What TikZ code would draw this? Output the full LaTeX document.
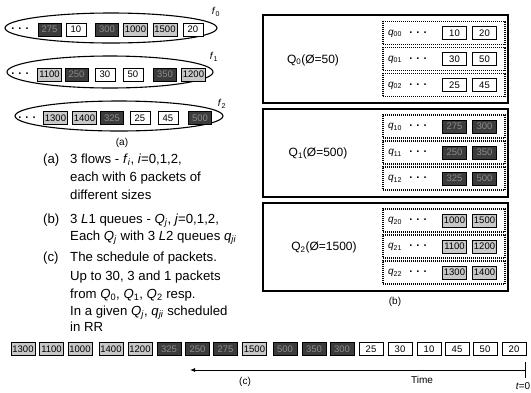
\documentclass[tikz,border=0pt]{standalone}
\usepackage{fontspec}
\setmainfont{Liberation Sans}
\usetikzlibrary{shapes.geometric,arrows.meta}
\definecolor{darkpk}{HTML}{3C3C3C}
\definecolor{darktxt}{HTML}{8C8C8C}
\definecolor{lightpk}{HTML}{C8C8C8}
\tikzset{
  pk/.style={draw=black, line width=0.8pt, inner xsep=1pt, inner ysep=0pt, minimum height=13pt, minimum width=24pt,
    font=\fontsize{9.5}{10}\selectfont, text height=6.9pt, text depth=0pt},
  pw/.style={pk, fill=white},
  pd/.style={pk, fill=darkpk, text=darktxt},
  pl/.style={pk, fill=lightpk},
  ew/.style={pw, minimum width=20pt},
  ed/.style={pd, minimum width=23pt},
  el/.style={pl, minimum width=24pt},
  flowell/.style={ellipse, draw, line width=1.1pt, inner sep=0pt},
  Qbox/.style={draw, line width=2pt, inner sep=0pt, minimum width=245pt, minimum height=88pt},
  qbox/.style={draw, line width=1.1pt, dash pattern=on 1pt off 1pt, inner sep=0pt, minimum width=122pt, minimum height=23pt},
  qlab/.style={inner sep=0pt, font=\fontsize{10}{12}\selectfont},
  dotsn/.style={inner sep=0pt, font=\fontsize{11}{12}\selectfont\bfseries},
  Qlab/.style={inner sep=0pt, font=\fontsize{12}{14}\selectfont},
  captxt/.style={inner sep=0pt, font=\fontsize{10}{12}\selectfont},
  flab/.style={inner sep=0pt, font=\fontsize{10}{12}\selectfont},
  txt/.style={inner sep=0pt, anchor=west, font=\fontsize{13.2}{16}\selectfont, text height=9.5pt, text depth=2.7pt},
}
\begin{document}
\begin{tikzpicture}[x=1pt,y=-1pt]
\useasboundingbox (0,0) rectangle (531,392);

% ---------- flows (a) ----------
\node[flowell, minimum width=212pt, minimum height=30pt] (f0) at (111,28) {};
\node[flowell, minimum width=206pt, minimum height=32pt] (f1) at (110,72) {};
\node[flowell, minimum width=208pt, minimum height=30pt] (f2) at (119,116) {};
\node[flab] (f0l) at (216,12) {\textit{f}\textsubscript{0}};
\node[flab] (f1l) at (214,57) {\textit{f}\textsubscript{1}};
\node[flab] (f2l) at (222,104) {\textit{f}\textsubscript{2}};
\node[dotsn] (f0d) at (20,28.5) {. . .};
\node[dotsn] (f1d) at (20,73.5) {. . .};
\node[dotsn] (f2d) at (27,117.5) {. . .};
\foreach \s/\x/\t [count=\k] in {d/49.5/275, w/76/10, d/107/300, l/135.5/1000, l/165/1500, w/193/20}
  \node[e\s] (fa\k) at (\x,29.5) {\t};
\foreach \s/\x/\t [count=\k] in {l/49.5/1100, d/76.5/250, w/105/30, w/133/50, d/165/350, l/193.5/1200}
  \node[e\s] (fb\k) at (\x,74.5) {\t};
\foreach \s/\x/\t [count=\k] in {l/55.5/1300, l/84.5/1400, d/112/325, w/140/25, w/168/45, d/200/500}
  \node[e\s] (fc\k) at (\x,118) {\t};
\node[captxt] (capa) at (122,143) {(a)};

% ---------- left text ----------
\node[txt] (la) at (43,160) {(a)};
\node[txt] (ta1) at (70,160) {3 flows - \textit{f}\textsubscript{\textit{i}}, \textit{i}=0,1,2,};
\node[txt] (ta2) at (70,178) {each with 6 packets of};
\node[txt] (ta3) at (70,196) {different sizes};
\node[txt] (lb) at (43,220) {(b)};
\node[txt] (tb1) at (70,220) {3 \textit{L}1 queues - \textit{Q}\textsubscript{\textit{j}}, \textit{j}=0,1,2,};
\node[txt] (tb2) at (70,237) {Each \textit{Q}\textsubscript{\textit{j}} with 3 \textit{L}2 queues \textit{q}\textsubscript{\textit{ji}}};
\node[txt] (lc) at (43,258) {(c)};
\node[txt] (tc1) at (70,258) {The schedule of packets.};
\node[txt] (tc2) at (70,277) {Up to 30, 3 and 1 packets};
\node[txt] (tc3) at (70,295) {from \textit{Q}\textsubscript{0}, \textit{Q}\textsubscript{1}, \textit{Q}\textsubscript{2} resp.};
\node[txt] (tc4) at (70,312) {In a given \textit{Q}\textsubscript{\textit{j}}, \textit{q}\textsubscript{\textit{ji}} scheduled};
\node[txt] (tc5) at (70,328) {in RR};

% ---------- queues (b) ----------
\node[Qbox] (Q0) at (385.5,59) {};
\node[Qbox] (Q1) at (385.5,152.5) {};
\node[Qbox] (Q2) at (385.5,246.5) {};
\node[Qlab] (Q0l) at (313,60) {Q\textsubscript{0}(Ø=50)};
\node[Qlab] (Q1l) at (318,153.5) {Q\textsubscript{1}(Ø=500)};
\node[Qlab] (Q2l) at (324,247.5) {Q\textsubscript{2}(Ø=1500)};
\foreach \j/\i/\y/\s/\a/\b in {0/0/33/w/10/20, 0/1/59/w/30/50, 0/2/85/w/25/45,
    1/0/126.5/d/275/300, 1/1/152.5/d/250/350, 1/2/178.5/d/325/500,
    2/0/220.5/l/1000/1500, 2/1/246.5/l/1100/1200, 2/2/272.5/l/1300/1400} {
  \node[qbox] (qb\j\i) at (444,\y) {};
  \node[qlab] (ql\j\i) at (395,\y+0.5) {\textit{q}\textsubscript{\j\i}};
  \node[dotsn] (qd\j\i) at (418,\y-0.5) {. . .};
  \node[p\s] (qa\j\i) at (454.5,\y) {\a};
  \node[p\s] (qz\j\i) at (484.5,\y) {\b};
}
\node[captxt] (capb) at (395,302) {(b)};

% ---------- schedule (c) ----------
\foreach \s/\x/\t [count=\k] in {l/23/1300, l/51.5/1100, l/80/1000, l/111/1400, l/140/1200, d/169/325,
    d/197.5/250, d/225.5/275, l/254.5/1500, d/285/500, d/314/350, d/342/300,
    w/371/25, w/400/30, w/429/10, w/457/45, w/485/50, w/514/20}
  \node[p\s] (s\k) at (\x,349) {\t};
\coordinate (t0) at (525,370);
\coordinate (ttop) at (525,362);
\coordinate (tbot) at (525,378);
\coordinate (tend) at (190,370);
\draw[line width=0.9pt, -{Latex[length=5pt,width=4pt]}] (t0) -- (tend);
\draw[line width=0.9pt] (ttop) -- (tbot);
\node[captxt] (capc) at (245,382) {(c)};
\node[captxt] (time) at (422,380) {Time};
\node[captxt, anchor=east] (tzero) at (530.5,386) {\textit{t}=0};
\end{tikzpicture}
\end{document}
